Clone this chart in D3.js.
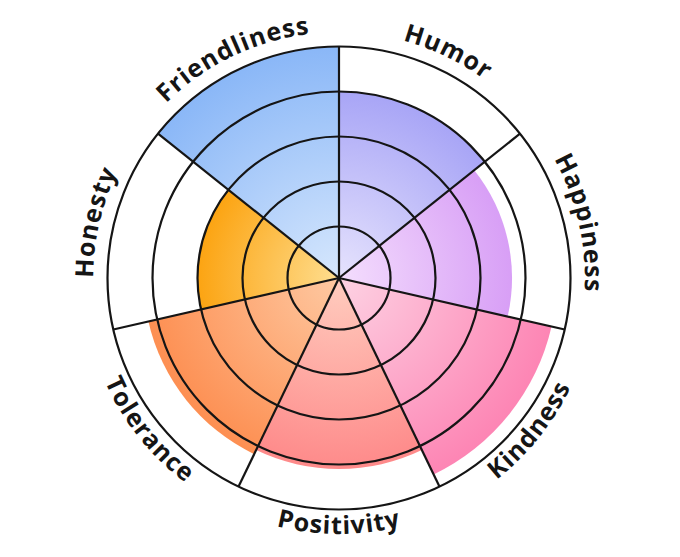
<!DOCTYPE html>
<html>
<head>
<meta charset="utf-8">
<script src="https://cdn.jsdelivr.net/npm/d3@7"></script>
<style>
  body { margin: 0; background: #fff; }
  .label { font-family: "Open Sans", sans-serif; font-weight: 700; font-size: 25px; letter-spacing: 1px; fill: #151515; }
</style>
</head>
<body>
<div id="chart"></div>
<script>
// Data
const categories = ['Friendliness', 'Humor', 'Happiness', 'Kindness', 'Positivity', 'Tolerance', 'Honesty'];
const values = [5, 4, 3.7, 4.7, 4.1, 4.2, 3];
const outerColors = ['#8ab7f7', '#a8a5f6', '#d89ff6', '#fd85b4', '#fe8a8a', '#fd8f52', '#fca412'];
const innerColors = ['#d6e7fd', '#e6e3fd', '#f4defd', '#fdd2e3', '#ffcdbf', '#fec9a2', '#fede90'];
const ticks = [1, 2, 3, 4, 5];

const width = 680;
const height = 557;
const cx = 339, cy = 278;

const svg = d3.select('#chart')
    .append('svg')
    .attr('width', width)
    .attr('height', height)
    .append('g')
    .attr('transform', `translate(${cx},${cy})`);

const step = 2 * Math.PI / categories.length;

// Angular scale, Friendliness starts one sector left of 12 o'clock
const x = d3.scaleBand()
    .domain(categories)
    .range([-step, 2 * Math.PI - step])
    .padding(0);

const y = d3.scaleLinear()
    .domain([0, 5])
    .range([6.5, 231.5]);

// Gradients
const defs = svg.append('defs');
categories.forEach((c, i) => {
    const g = defs.append('radialGradient')
        .attr('id', 'grad' + i)
        .attr('gradientUnits', 'userSpaceOnUse')
        .attr('cx', 0).attr('cy', 0)
        .attr('r', y(values[i]));
    g.append('stop').attr('offset', '0%').attr('stop-color', innerColors[i]);
    g.append('stop').attr('offset', '100%').attr('stop-color', outerColors[i]);
});

const arc = d3.arc()
    .innerRadius(0)
    .outerRadius((d, i) => y(values[i]))
    .startAngle(d => x(d))
    .endAngle(d => x(d) + x.bandwidth());

// Bars
svg.selectAll('.bar')
    .data(categories)
    .enter()
    .append('path')
    .attr('class', 'bar')
    .attr('d', (d, i) => arc(d, i))
    .attr('fill', (d, i) => `url(#grad${i})`);

// Grid rings
svg.selectAll('.ring')
    .data(ticks)
    .enter()
    .append('circle')
    .attr('class', 'ring')
    .attr('r', d => y(d))
    .attr('fill', 'none')
    .attr('stroke', '#151515')
    .attr('stroke-width', 2.2);

// Spokes
svg.selectAll('.spoke')
    .data(categories)
    .enter()
    .append('line')
    .attr('class', 'spoke')
    .attr('x1', 0).attr('y1', 0)
    .attr('x2', d => y(5) * Math.sin(x(d)))
    .attr('y2', d => -y(5) * Math.cos(x(d)))
    .attr('stroke', '#151515')
    .attr('stroke-width', 2.2);

// Curved labels
function arcPath(r, a0, a1, clockwise) {
    const p0 = [r * Math.sin(a0), -r * Math.cos(a0)];
    const p1 = [r * Math.sin(a1), -r * Math.cos(a1)];
    return clockwise
        ? `M${p0[0]},${p0[1]}A${r},${r} 0 0 1 ${p1[0]},${p1[1]}`
        : `M${p1[0]},${p1[1]}A${r},${r} 0 0 0 ${p0[0]},${p0[1]}`;
}

categories.forEach((c, i) => {
    const mid = x(c) + x.bandwidth() / 2;
    const m = ((mid % (2 * Math.PI)) + 2 * Math.PI) % (2 * Math.PI);
    const bottom = m > Math.PI / 2 && m < 3 * Math.PI / 2;
    const r = bottom ? 256 : 246;
    defs.append('path')
        .attr('id', 'lp' + i)
        .attr('d', arcPath(r, mid - Math.PI / 2, mid + Math.PI / 2, !bottom));
    svg.append('text')
        .attr('class', 'label')
        .append('textPath')
        .attr('href', '#lp' + i)
        .attr('startOffset', '50%')
        .attr('text-anchor', 'middle')
        .text(c);
});
</script>
</body>
</html>
